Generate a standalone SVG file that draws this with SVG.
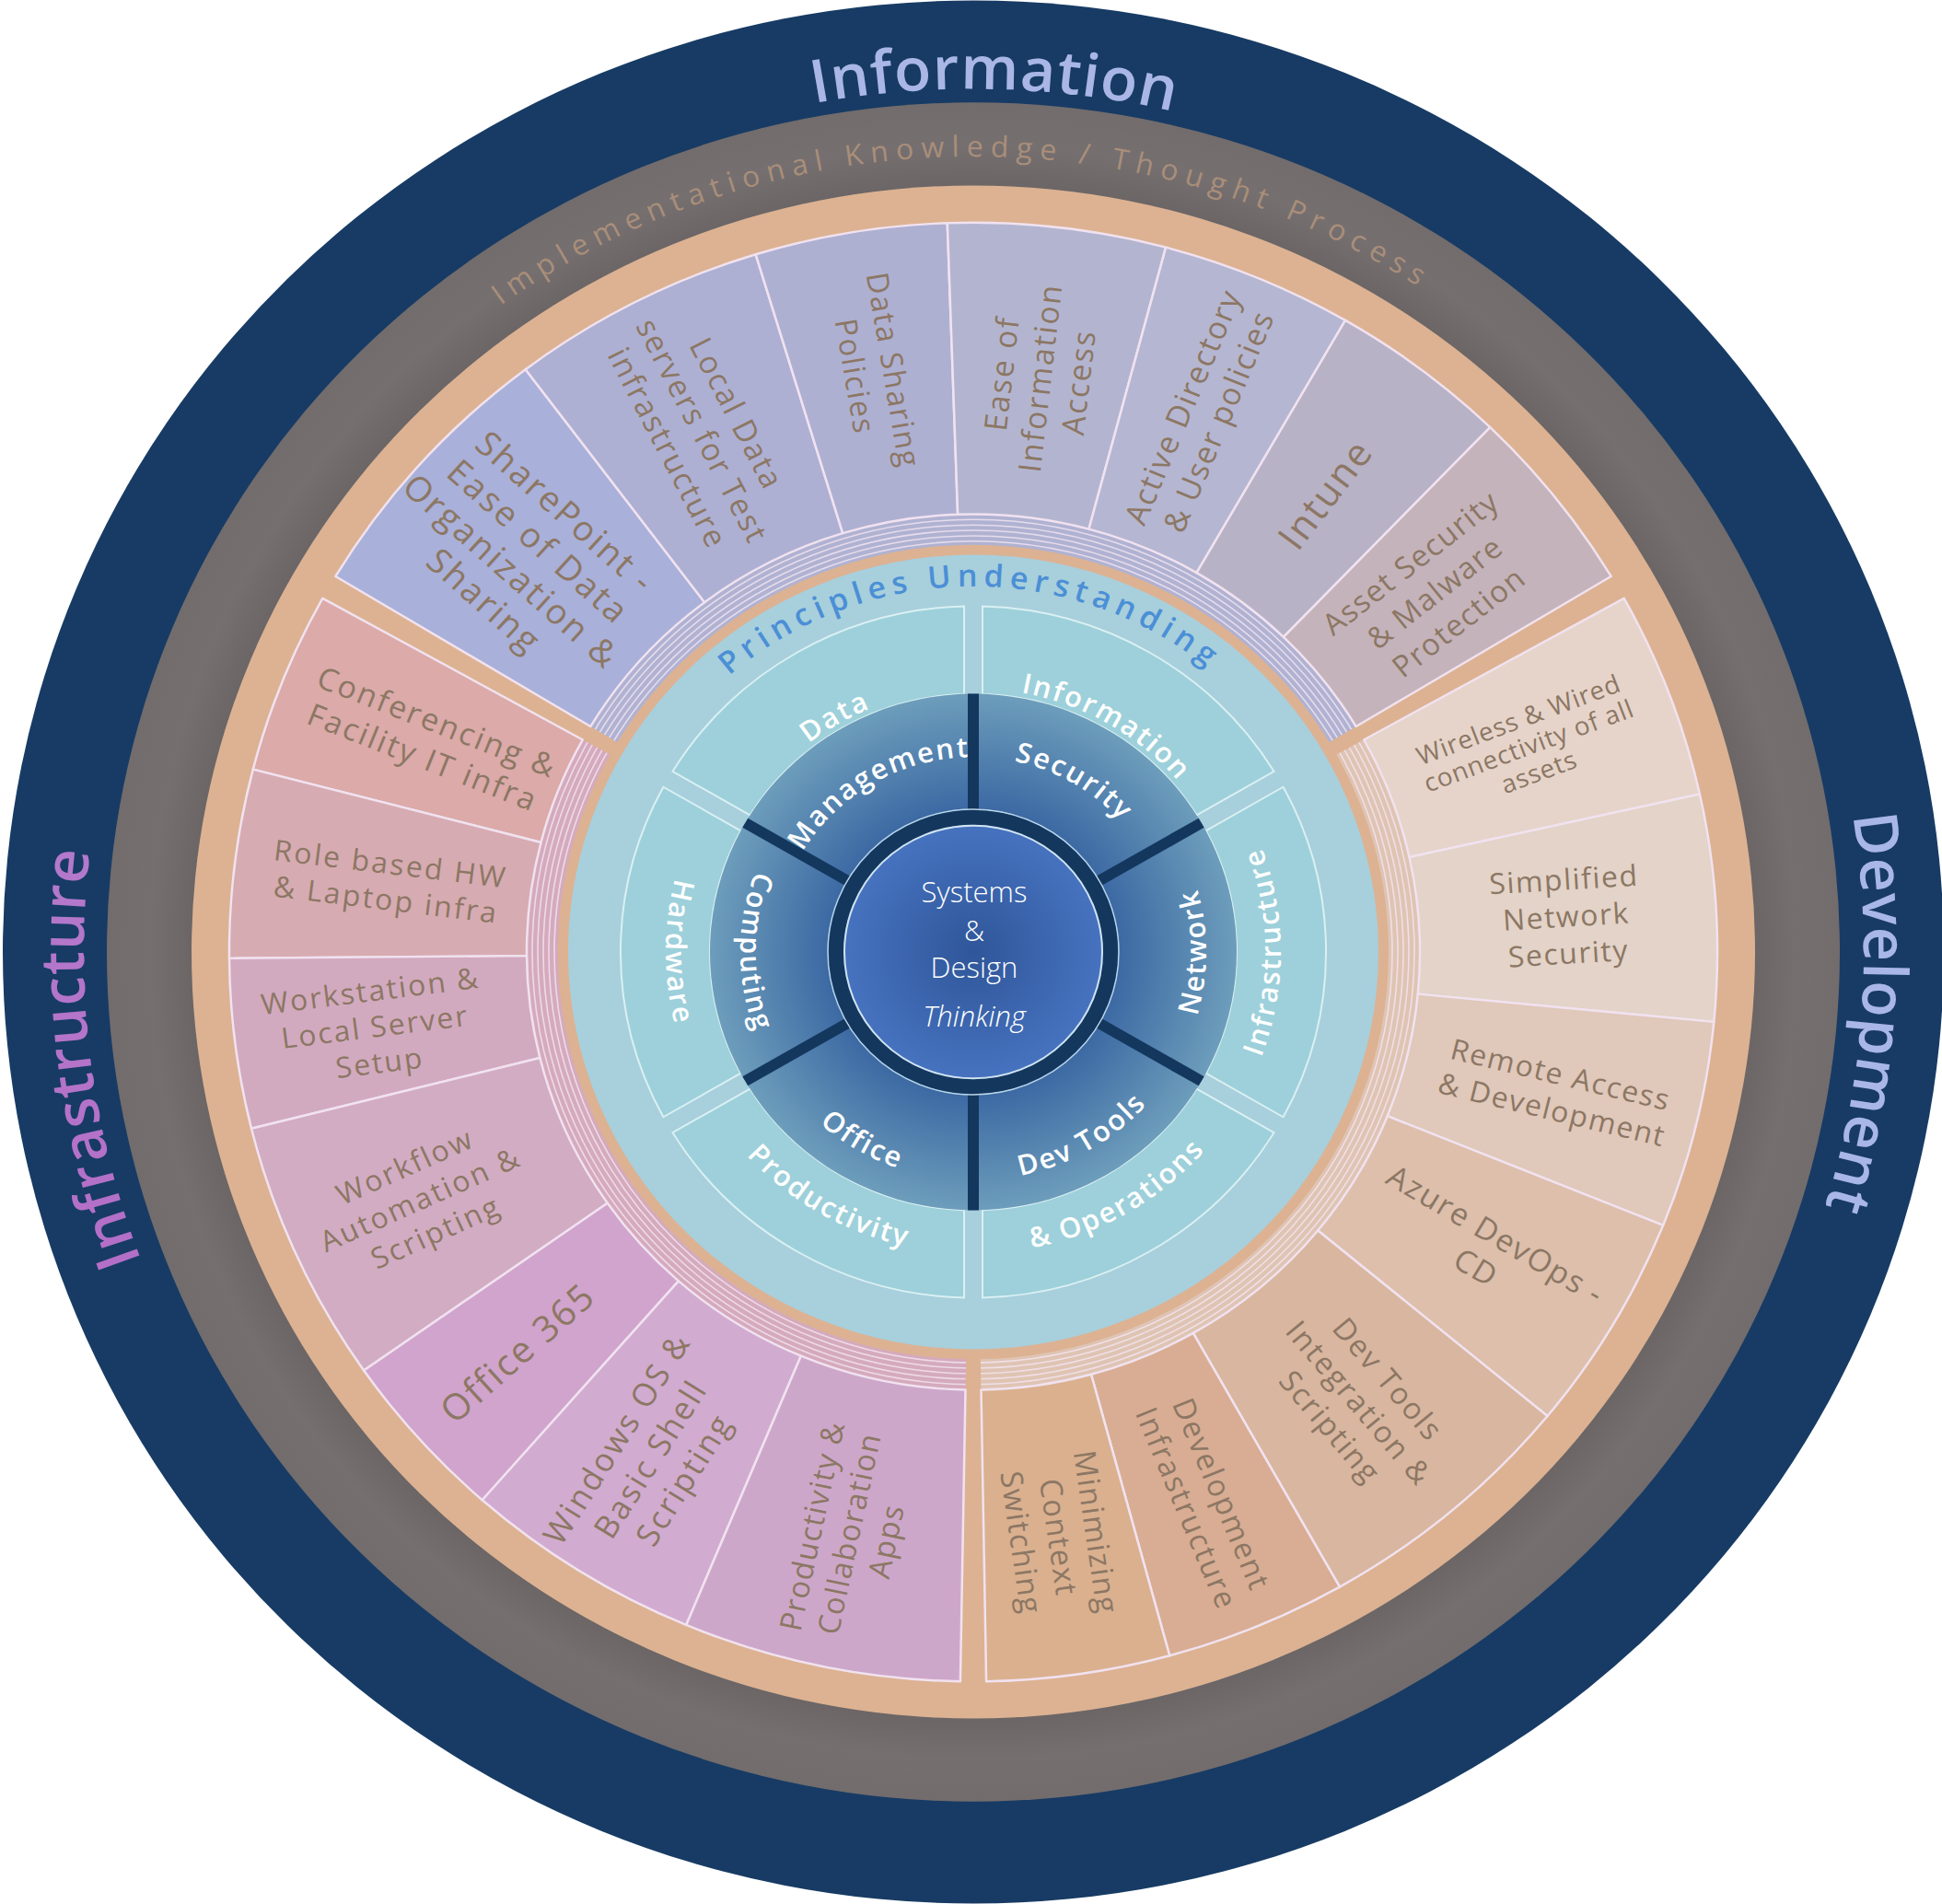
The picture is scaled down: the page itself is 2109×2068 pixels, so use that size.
<svg xmlns="http://www.w3.org/2000/svg" width="2109" height="2068" viewBox="0 0 2109 2068">
<defs>
<style>
.s{font-family:'Open Sans','Noto Sans',sans-serif;fill:#8c7764;text-anchor:middle;font-size:33px;letter-spacing:1.8px}
.w{font-family:'Open Sans','Noto Sans',sans-serif;fill:#ffffff;font-size:31px;font-weight:600;letter-spacing:2px;text-anchor:middle}
.big{font-family:'Open Sans','Noto Sans',sans-serif;font-size:66px;font-weight:600;letter-spacing:1px;text-anchor:middle}
.seg{stroke:#f1e2f0;stroke-width:2.5;stroke-linejoin:round}
.pan{fill:#9dd0da;stroke:#daf0f3;stroke-width:2}
.stk{fill:none;stroke:#f4e6f2;stroke-width:1.6;opacity:0.8}
.spoke{stroke:#14375e;stroke-width:12}
.ctr{font-family:'Open Sans','Noto Sans',sans-serif;fill:#ffffff;font-size:31px;font-weight:300;text-anchor:middle}
</style>
<radialGradient id="gMid" cx="0" cy="0" r="286" gradientUnits="userSpaceOnUse">
<stop offset="0.55" stop-color="#3c69a3"/><stop offset="1" stop-color="#6d9dbb"/>
</radialGradient>
<radialGradient id="gCen" cx="0" cy="0" r="141" gradientUnits="userSpaceOnUse">
<stop offset="0" stop-color="#2f5699"/><stop offset="1" stop-color="#4672bf"/>
</radialGradient>
<radialGradient id="gGray" cx="0" cy="0" r="941" gradientUnits="userSpaceOnUse">
<stop offset="0.9" stop-color="#6b6566"/><stop offset="0.95" stop-color="#756f70"/><stop offset="1" stop-color="#726c6d"/>
</radialGradient>
<linearGradient id="gInfra" x1="0" y1="700" x2="0" y2="-520" gradientUnits="userSpaceOnUse">
<stop offset="0" stop-color="#b466c4"/><stop offset="1" stop-color="#b383cf"/>
</linearGradient>
<clipPath id="cTop"><polygon points="0,0 -857.2,-515 -500,-1100 500,-1100 857.2,-515"/></clipPath>
<clipPath id="cLeft"><polygon points="0,0 -874.6,-484.8 -1100,-400 -1100,700 -600,1100 -17.5,999.8"/></clipPath>
<clipPath id="cRight"><polygon points="0,0 874.6,-484.8 1100,-400 1100,700 600,1100 17.5,999.8"/></clipPath>
<path id="pInfo" d="M -478,-827.9 A 956 956 0 0 1 478,-827.9"/>
<path id="pDev" d="M 782.3,-568.4 A 967 967 0 0 1 695.6,671.8"/>
<path id="pInfra" d="M -658.8,706.5 A 966 966 0 0 1 -810.2,-526.1"/>
<path id="pImpl" d="M -763,-440.5 A 881 881 0 0 1 763,-440.5"/>
<path id="pPrin" d="M -350.7,-202.5 A 405 405 0 0 1 350.7,-202.5"/>
<path id="pData" d="M -252.9,-146 A 292 292 0 0 1 0,-292"/>
<path id="pMgmt" d="M -187.1,-108 A 216 216 0 0 1 0,-216"/>
<path id="pInfoS" d="M 0,-292 A 292 292 0 0 1 252.9,-146"/>
<path id="pSec" d="M 0,-216 A 216 216 0 0 1 187.1,-108"/>
<path id="pNet" d="M 219.1,126.5 A 253 253 0 0 0 219.1,-126.5"/>
<path id="pInfr" d="M 289.2,167 A 334 334 0 0 0 289.2,-167"/>
<path id="pDevT" d="M 0,253 A 253 253 0 0 0 219.1,126.5"/>
<path id="pOps" d="M 0,334 A 334 334 0 0 0 289.2,167"/>
<path id="pOff" d="M -219.1,126.5 A 253 253 0 0 0 0,253"/>
<path id="pProd" d="M -289.2,167 A 334 334 0 0 0 0,334"/>
<path id="pComp" d="M -219.1,-126.5 A 253 253 0 0 0 -219.1,126.5"/>
<path id="pHard" d="M -289.2,-167 A 334 334 0 0 0 -289.2,167"/>
</defs>

<g transform="translate(1057,1034) scale(1,0.9806)">
<!-- rings -->
<g id="ring-outer">
<circle r="1054" fill="#173b64"/>
<text class="big" fill="#a9b6e6"><textPath href="#pInfo" startOffset="52.3%">Information</textPath></text>
<text class="big" fill="#a9b6e8"><textPath href="#pDev" startOffset="50%">Development</textPath></text>
<text class="big" fill="url(#gInfra)"><textPath href="#pInfra" startOffset="50%">Infrastructure</textPath></text>
</g>
<g id="ring-gray">
<circle r="941" fill="url(#gGray)"/>
<text font-family="'Open Sans','Noto Sans',sans-serif" font-size="32" letter-spacing="8" fill="#a98e79" text-anchor="middle"><textPath href="#pImpl" startOffset="49.2%">Implementational Knowledge / Thought Process</textPath></text>
</g>
<g id="ring-orange"><circle r="849" fill="#dcb292"/></g>

<!-- stacks -->
<g id="stack-top" clip-path="url(#cTop)">
<circle r="468" fill="none" stroke="#b0b2d2" stroke-width="34"/>
<circle r="455" class="stk"/><circle r="461" class="stk"/><circle r="467" class="stk"/><circle r="473" class="stk"/><circle r="479" class="stk"/>
</g>
<g id="stack-left" clip-path="url(#cLeft)">
<circle r="468" fill="none" stroke="#d5aabd" stroke-width="34"/>
<circle r="455" class="stk"/><circle r="461" class="stk"/><circle r="467" class="stk"/><circle r="473" class="stk"/><circle r="479" class="stk"/>
</g>
<g id="stack-right" clip-path="url(#cRight)">
<circle r="468" fill="none" stroke="#dfc4b3" stroke-width="34"/>
<circle r="455" class="stk"/><circle r="461" class="stk"/><circle r="467" class="stk"/><circle r="473" class="stk"/><circle r="479" class="stk"/>
</g>

<!-- top group -->
<g id="seg-sharepoint">
<path class="seg" fill="#a9b0d9" d="M -692.6,-416.1 A 808 808 0 0 1 -486.3,-645.3 L -291.9,-387.3 A 485 485 0 0 0 -415.7,-249.8 Z"/>
<g transform="translate(-486.7,-438.3) rotate(42)"><text class="s" style="font-size:38px;letter-spacing:2.5px"><tspan x="0" y="-52.3">SharePoint -</tspan><tspan x="0" y="-8.3">Ease of Data</tspan><tspan x="0" y="35.7">Organization &amp;</tspan><tspan x="0" y="79.7">Sharing</tspan></text></g>
</g>
<g id="seg-localdata">
<path class="seg" fill="#adb0d3" d="M -486.3,-645.3 A 808 808 0 0 1 -236.3,-772.7 L -141.8,-463.8 A 485 485 0 0 0 -291.9,-387.3 Z"/>
<g transform="translate(-294.2,-577.4) rotate(63)"><text class="s" style="font-size:34px"><tspan x="0" y="-29.8">Local Data</tspan><tspan x="0" y="12.2">servers for Test</tspan><tspan x="0" y="54.2">infrastructure</tspan></text></g>
</g>
<g id="seg-datasharing">
<path class="seg" fill="#aeb0d2" d="M -236.3,-772.7 A 808 808 0 0 1 -28.2,-807.5 L -16.9,-484.7 A 485 485 0 0 0 -141.8,-463.8 Z"/>
<g transform="translate(-107.3,-641.1) rotate(80.5)"><text class="s"><tspan x="0" y="-9.1">Data Sharing</tspan><tspan x="0" y="32.9">Policies</tspan></text></g>
</g>
<g id="seg-ease">
<path class="seg" fill="#b3b5d0" d="M -28.2,-807.5 A 808 808 0 0 1 209.1,-780.5 L 125.5,-468.5 A 485 485 0 0 0 -16.9,-484.7 Z"/>
<g transform="translate(72.5,-635.9) rotate(-83.5)"><text class="s" style="font-size:34px;letter-spacing:2px"><tspan x="0" y="-29.8">Ease of</tspan><tspan x="0" y="12.2">Information</tspan><tspan x="0" y="54.2">Access</tspan></text></g>
</g>
<g id="seg-ad">
<path class="seg" fill="#b5b6d1" d="M 209.1,-780.5 A 808 808 0 0 1 404,-699.7 L 242.5,-420 A 485 485 0 0 0 125.5,-468.5 Z"/>
<g transform="translate(246.8,-595.9) rotate(-67.5)"><text class="s" style="font-size:34px"><tspan x="0" y="-8.8">Active Directory</tspan><tspan x="0" y="33.2">&amp; User policies</tspan></text></g>
</g>
<g id="seg-intune">
<path class="seg" fill="#b8b2c6" d="M 404,-699.7 A 808 808 0 0 1 561.3,-581.2 L 336.9,-348.9 A 485 485 0 0 0 242.5,-420 Z"/>
<g transform="translate(382.2,-507.1) rotate(-53)"><text class="s" style="font-size:42px;letter-spacing:2px"><tspan x="0" y="15">Intune</tspan></text></g>
</g>
<g id="seg-asset">
<path class="seg" fill="#c4b3bb" d="M 561.3,-581.2 A 808 808 0 0 1 692.6,-416.1 L 415.7,-249.8 A 485 485 0 0 0 336.9,-348.9 Z"/>
<g transform="translate(500.9,-398.4) rotate(-38.5)"><text class="s" style="letter-spacing:1.4px"><tspan x="0" y="-30.1">Asset Security</tspan><tspan x="0" y="11.9">&amp; Malware</tspan><tspan x="0" y="53.9">Protection</tspan></text></g>
</g>

<!-- left group -->
<g id="seg-conferencing">
<path class="seg" fill="#dbaaa9" d="M -782.2,-202.3 A 808 808 0 0 1 -706.7,-391.7 L -424.2,-235.1 A 485 485 0 0 0 -469.5,-121.4 Z"/>
<g transform="translate(-589.8,-235.3) rotate(21.75)"><text class="s" style="font-size:34px;letter-spacing:2.3px"><tspan x="0" y="-8.8">Conferencing &amp;</tspan><tspan x="0" y="33.2">Facility IT infra</tspan></text></g>
</g>
<g id="seg-role">
<path class="seg" fill="#d7abb2" d="M -808,7 A 808 808 0 0 1 -782.2,-202.3 L -469.5,-121.4 A 485 485 0 0 0 -485,4.2 Z"/>
<g transform="translate(-635.2,-78) rotate(7)"><text class="s" style="font-size:32px;letter-spacing:2.3px"><tspan x="0" y="-8.5">Role based HW</tspan><tspan x="0" y="31.5">&amp; Laptop infra</tspan></text></g>
</g>
<g id="seg-workstation">
<path class="seg" fill="#d2aabf" d="M -784,195.5 A 808 808 0 0 1 -808,7 L -485,4.2 A 485 485 0 0 0 -470.6,117.3 Z"/>
<g transform="translate(-649.8,82.7) rotate(-7.25)"><text class="s" style="font-size:32px;letter-spacing:2px"><tspan x="0" y="-28.5">Workstation &amp;</tspan><tspan x="0" y="11.5">Local Server</tspan><tspan x="0" y="51.5">Setup</tspan></text></g>
</g>
<g id="seg-workflow">
<path class="seg" fill="#d2acc3" d="M -661.9,463.5 A 808 808 0 0 1 -784,195.5 L -470.6,117.3 A 485 485 0 0 0 -397.3,278.2 Z"/>
<g transform="translate(-600.6,273.7) rotate(-24.5)"><text class="s" style="font-size:32px;letter-spacing:2.3px"><tspan x="0" y="-28.5">Workflow</tspan><tspan x="0" y="11.5">Automation &amp;</tspan><tspan x="0" y="51.5">Scripting</tspan></text></g>
</g>
<g id="seg-office365">
<path class="seg" fill="#d0a4cc" d="M -533.3,607 A 808 808 0 0 1 -661.9,463.5 L -397.3,278.2 A 485 485 0 0 0 -320.1,364.4 Z"/>
<g transform="translate(-495.1,443.9) rotate(-41.85)"><text class="s" style="font-size:40px;letter-spacing:2px"><tspan x="0" y="14.4">Office 365</tspan></text></g>
</g>
<g id="seg-windows">
<path class="seg" fill="#d1abd0" d="M -311.8,745.4 A 808 808 0 0 1 -533.3,607 L -320.1,364.4 A 485 485 0 0 0 -187.2,447.4 Z"/>
<g transform="translate(-350.8,561.4) rotate(-58)"><text class="s" style="font-size:35px;letter-spacing:2.5px"><tspan x="0" y="-30.4">Windows OS &amp;</tspan><tspan x="0" y="12.6">Basic Shell</tspan><tspan x="0" y="55.6">Scripting</tspan></text></g>
</g>
<g id="seg-productivity">
<path class="seg" fill="#cda7ca" d="M -14.1,807.9 A 808 808 0 0 1 -311.8,745.4 L -187.2,447.4 A 485 485 0 0 0 -8.5,484.9 Z"/>
<g transform="translate(-135.1,644) rotate(-78.15)"><text class="s" style="letter-spacing:1.5px"><tspan x="0" y="-29.1">Productivity &amp;</tspan><tspan x="0" y="11.9">Collaboration</tspan><tspan x="0" y="52.9">Apps</tspan></text></g>
</g>

<!-- right group -->
<g id="seg-wireless">
<path class="seg" fill="#e6d4ca" d="M 706.7,-391.7 A 808 808 0 0 1 788.9,-174.9 L 473.5,-105 A 485 485 0 0 0 424.2,-235.1 Z"/>
<g transform="translate(603.1,-228.5) rotate(-20.75)"><text class="s" style="font-size:28px;letter-spacing:0.8px"><tspan x="0" y="-21">Wireless &amp; Wired</tspan><tspan x="0" y="10">connectivity of all</tspan><tspan x="0" y="41">assets</tspan></text></g>
</g>
<g id="seg-simplified">
<path class="seg" fill="#e3d3c8" d="M 788.9,-174.9 A 808 808 0 0 1 804.3,77.4 L 482.8,46.5 A 485 485 0 0 0 473.5,-105 Z"/>
<g transform="translate(643.8,-39.4) rotate(-3.5)"><text class="s" style="font-size:32px;letter-spacing:1.5px"><tspan x="0" y="-29.5">Simplified</tspan><tspan x="0" y="11.5">Network</tspan><tspan x="0" y="52.5">Security</tspan></text></g>
</g>
<g id="seg-remote">
<path class="seg" fill="#e0c8ba" d="M 804.3,77.4 A 808 808 0 0 1 749.2,302.7 L 449.7,181.7 A 485 485 0 0 0 482.8,46.5 Z"/>
<g transform="translate(633.3,155) rotate(13.75)"><text class="s" style="font-size:32px;letter-spacing:1.6px"><tspan x="0" y="-8.5">Remote Access</tspan><tspan x="0" y="31.5">&amp; Development</tspan></text></g>
</g>
<g id="seg-azure">
<path class="seg" fill="#ddbfac" d="M 749.2,302.7 A 808 808 0 0 1 623.5,514 L 374.2,308.5 A 485 485 0 0 0 449.7,181.7 Z"/>
<g transform="translate(556.9,331.3) rotate(30.75)"><text class="s" style="font-size:34px;letter-spacing:1.7px"><tspan x="0" y="-8.8">Azure DevOps -</tspan><tspan x="0" y="33.2">CD</tspan></text></g>
</g>
<g id="seg-devtools">
<path class="seg" fill="#d9b69f" d="M 623.5,514 A 808 808 0 0 1 397.9,703.3 L 238.8,422.1 A 485 485 0 0 0 374.2,308.5 Z"/>
<g transform="translate(419.1,499.4) rotate(50)"><text class="s"><tspan x="0" y="-29.1">Dev Tools</tspan><tspan x="0" y="11.9">Integration &amp;</tspan><tspan x="0" y="52.9">Scripting</tspan></text></g>
</g>
<g id="seg-development">
<path class="seg" fill="#d9ad93" d="M 397.9,703.3 A 808 808 0 0 1 213.2,779.4 L 128,467.8 A 485 485 0 0 0 238.8,422.1 Z"/>
<g transform="translate(250.8,608.3) rotate(67.6)"><text class="s"><tspan x="0" y="-8.6">Development</tspan><tspan x="0" y="32.4">Infrastructure</tspan></text></g>
</g>
<g id="seg-minimizing">
<path class="seg" fill="#dab08f" d="M 213.2,779.4 A 808 808 0 0 1 14.1,807.9 L 8.5,484.9 A 485 485 0 0 0 128,467.8 Z"/>
<g transform="translate(92.9,648.4) rotate(81.85)"><text class="s" style="letter-spacing:1.5px"><tspan x="0" y="-29.1">Minimizing</tspan><tspan x="0" y="11.9">Context</tspan><tspan x="0" y="52.9">Switching</tspan></text></g>
</g>

<!-- principles ring -->
<g id="ring-principles">
<circle r="440" fill="#a8cfdc"/>
<text font-family="'Open Sans','Noto Sans',sans-serif" font-size="34" font-weight="600" letter-spacing="6.5" fill="#4b8fd6" text-anchor="middle"><textPath href="#pPrin" startOffset="49.5%">Principles Understanding</textPath></text>
</g>

<!-- inner panels -->
<g id="panel-data"><path class="pan" d="M -326.5,-200.1 A 383 383 0 0 1 -10,-382.9 L -10,-285.8 A 286 286 0 0 0 -242.5,-151.5 Z"/></g>
<g id="panel-infosec"><path class="pan" d="M 10,-382.9 A 383 383 0 0 1 326.5,-200.1 L 242.5,-151.5 A 286 286 0 0 0 10,-285.8 Z"/></g>
<g id="panel-network"><path class="pan" d="M 336.6,-182.8 A 383 383 0 0 1 336.6,182.8 L 252.5,134.3 A 286 286 0 0 0 252.5,-134.3 Z"/></g>
<g id="panel-devtools"><path class="pan" d="M 326.5,200.1 A 383 383 0 0 1 10,382.9 L 10,285.8 A 286 286 0 0 0 242.5,151.5 Z"/></g>
<g id="panel-office"><path class="pan" d="M -10,382.9 A 383 383 0 0 1 -326.5,200.1 L -242.5,151.5 A 286 286 0 0 0 -10,285.8 Z"/></g>
<g id="panel-hardware"><path class="pan" d="M -336.6,182.8 A 383 383 0 0 1 -336.6,-182.8 L -252.5,-134.3 A 286 286 0 0 0 -252.5,134.3 Z"/></g>

<g id="ring-middle">
<circle r="286" fill="url(#gMid)"/>
<line class="spoke" x1="0" y1="-156" x2="0" y2="-286"/>
<line class="spoke" x1="135.1" y1="-78" x2="247.7" y2="-143"/>
<line class="spoke" x1="135.1" y1="78" x2="247.7" y2="143"/>
<line class="spoke" x1="0" y1="156" x2="0" y2="286"/>
<line class="spoke" x1="-135.1" y1="78" x2="-247.7" y2="143"/>
<line class="spoke" x1="-135.1" y1="-78" x2="-247.7" y2="-143"/>
</g>

<g id="labels-inner">
<text class="w"><textPath href="#pData" startOffset="50%">Data</textPath></text>
<text class="w"><textPath href="#pMgmt" startOffset="50%">Management</textPath></text>
<text class="w"><textPath href="#pInfoS" startOffset="50%">Information</textPath></text>
<text class="w"><textPath href="#pSec" startOffset="50%">Security</textPath></text>
<text class="w"><textPath href="#pNet" startOffset="50%">Network</textPath></text>
<text class="w"><textPath href="#pInfr" startOffset="50%">Infrastructure</textPath></text>
<text class="w"><textPath href="#pDevT" startOffset="50%">Dev Tools</textPath></text>
<text class="w"><textPath href="#pOps" startOffset="50%">&amp; Operations</textPath></text>
<text class="w"><textPath href="#pOff" startOffset="50%">Office</textPath></text>
<text class="w"><textPath href="#pProd" startOffset="50%">Productivity</textPath></text>
<text class="w"><textPath href="#pComp" startOffset="50%">Computing</textPath></text>
<text class="w"><textPath href="#pHard" startOffset="50%">Hardware</textPath></text>
</g>

<g id="core">
<circle r="158" fill="none" stroke="#b9d5e6" stroke-width="1.5"/>
<circle r="149" fill="none" stroke="#14375e" stroke-width="16"/>
<circle r="140" fill="url(#gCen)" stroke="#cfe3f0" stroke-width="2"/>
</g>
</g>

<g id="center-text" transform="translate(1058,1034)">
<text class="ctr"><tspan x="0" y="-54">Systems</tspan><tspan x="0" y="-12">&amp;</tspan><tspan x="0" y="28">Design</tspan><tspan x="0" y="81" font-style="italic">Thinking</tspan></text>
</g>
<g id="connectors"/>
</svg>
